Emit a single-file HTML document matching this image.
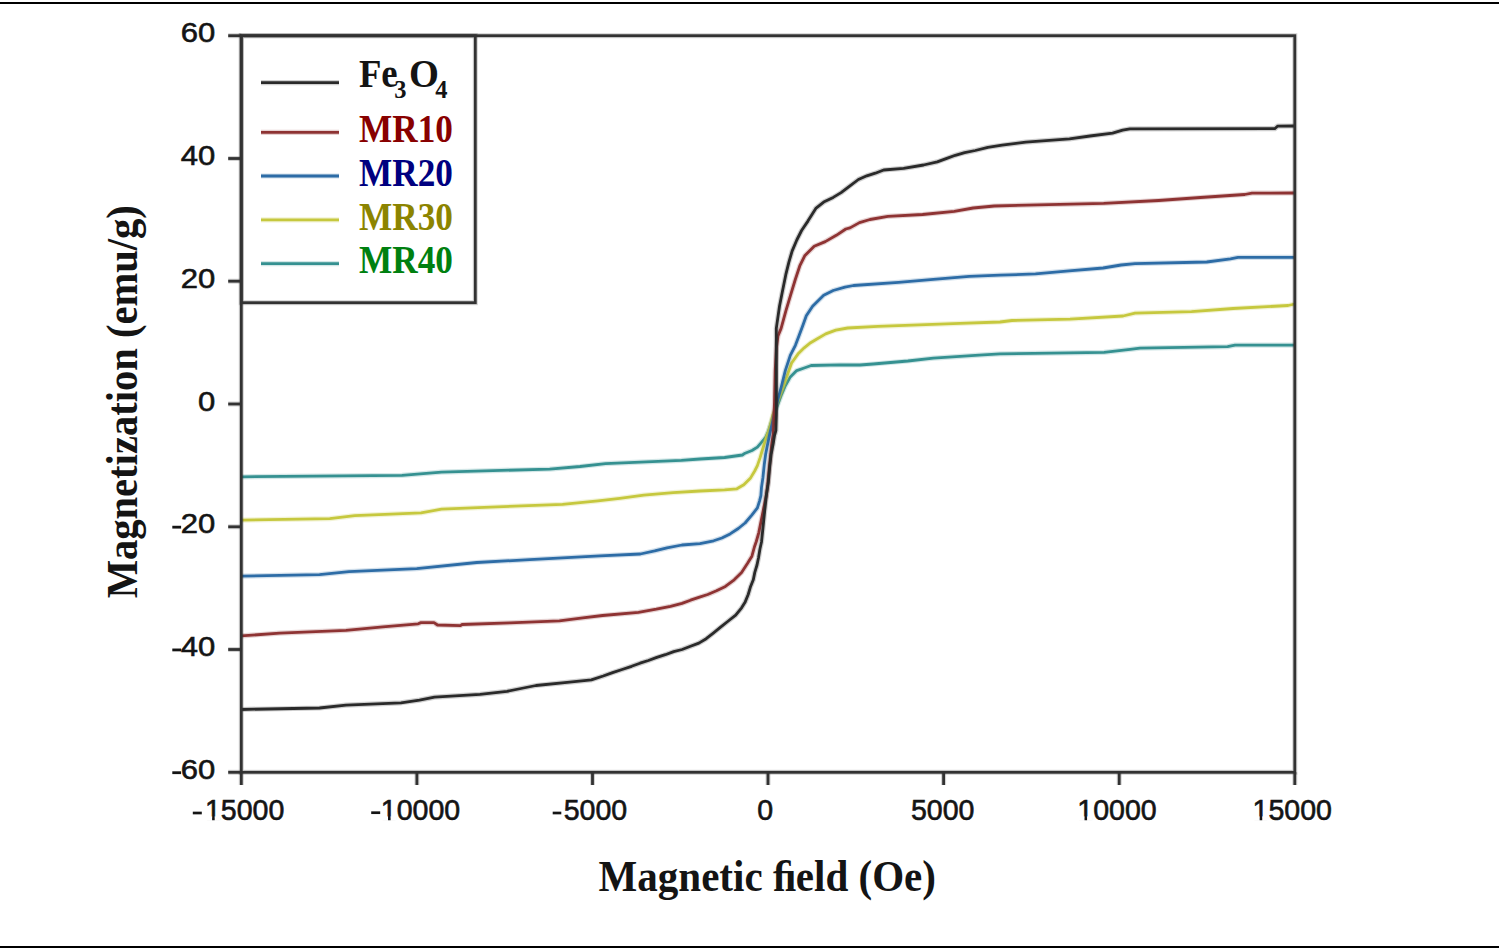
<!DOCTYPE html>
<html><head><meta charset="utf-8"><title>Magnetization vs Magnetic field</title>
<style>html,body{margin:0;padding:0;background:#fff;width:1499px;height:950px;overflow:hidden}svg{display:block}</style>
</head><body>
<svg width="1499" height="950" viewBox="0 0 1499 950">
<rect width="1499" height="950" fill="#fff"/>
<rect x="0" y="2" width="1499" height="2" fill="#000"/>
<rect x="0" y="946" width="1499" height="2" fill="#000"/>
<polyline points="241.0,476.8 402.0,475.3 441.5,472.1 549.7,469.1 580.0,466.5 605.5,463.6 681.4,460.4 700.0,459.0 724.6,457.5 742.4,455.0 745.1,453.2 752.0,450.5 757.4,447.1 761.5,442.3 765.6,437.5 768.3,431.5 772.6,418.6 777.7,404.7 781.5,394.6 785.3,385.7 790.3,376.9 796.7,370.6 804.2,368.0 811.2,365.5 840.0,364.9 860.0,365.0 873.2,364.0 907.9,361.0 933.4,358.2 979.1,355.2 1000.0,353.8 1104.1,352.4 1130.1,349.4 1140.0,348.1 1227.6,346.6 1235.0,345.1 1294.8,345.1" fill="none" stroke="#359191" stroke-opacity="0.22" stroke-width="5.2" stroke-linejoin="round"/>
<polyline points="241.0,476.8 402.0,475.3 441.5,472.1 549.7,469.1 580.0,466.5 605.5,463.6 681.4,460.4 700.0,459.0 724.6,457.5 742.4,455.0 745.1,453.2 752.0,450.5 757.4,447.1 761.5,442.3 765.6,437.5 768.3,431.5 772.6,418.6 777.7,404.7 781.5,394.6 785.3,385.7 790.3,376.9 796.7,370.6 804.2,368.0 811.2,365.5 840.0,364.9 860.0,365.0 873.2,364.0 907.9,361.0 933.4,358.2 979.1,355.2 1000.0,353.8 1104.1,352.4 1130.1,349.4 1140.0,348.1 1227.6,346.6 1235.0,345.1 1294.8,345.1" fill="none" stroke="#359191" stroke-width="2.8" stroke-linejoin="round"/>
<polyline points="241.0,520.1 329.8,518.6 354.8,515.7 421.1,512.9 441.5,509.2 484.2,507.3 562.5,504.3 598.0,500.8 619.8,498.3 643.8,495.2 673.2,492.7 700.0,491.0 724.6,489.8 736.9,488.8 743.8,484.7 750.6,477.9 754.7,471.0 757.4,465.6 760.2,457.4 762.2,450.5 764.3,443.7 767.0,435.5 769.0,430.0 772.6,416.0 779.0,398.4 785.3,380.7 791.6,363.0 797.9,354.1 804.2,347.8 810.6,342.7 816.9,339.0 825.7,333.9 835.8,330.1 847.7,328.0 877.8,326.3 960.0,323.4 1000.0,322.0 1012.0,320.5 1070.0,319.2 1123.1,316.0 1135.0,313.2 1191.5,311.6 1233.1,308.5 1288.1,305.5 1294.8,304.0" fill="none" stroke="#c6c83e" stroke-opacity="0.22" stroke-width="5.2" stroke-linejoin="round"/>
<polyline points="241.0,520.1 329.8,518.6 354.8,515.7 421.1,512.9 441.5,509.2 484.2,507.3 562.5,504.3 598.0,500.8 619.8,498.3 643.8,495.2 673.2,492.7 700.0,491.0 724.6,489.8 736.9,488.8 743.8,484.7 750.6,477.9 754.7,471.0 757.4,465.6 760.2,457.4 762.2,450.5 764.3,443.7 767.0,435.5 769.0,430.0 772.6,416.0 779.0,398.4 785.3,380.7 791.6,363.0 797.9,354.1 804.2,347.8 810.6,342.7 816.9,339.0 825.7,333.9 835.8,330.1 847.7,328.0 877.8,326.3 960.0,323.4 1000.0,322.0 1012.0,320.5 1070.0,319.2 1123.1,316.0 1135.0,313.2 1191.5,311.6 1233.1,308.5 1288.1,305.5 1294.8,304.0" fill="none" stroke="#c6c83e" stroke-width="2.8" stroke-linejoin="round"/>
<polyline points="241.0,576.1 319.5,574.6 349.0,571.7 416.8,568.7 476.8,562.5 529.8,559.6 585.8,556.6 600.0,555.8 640.4,554.0 654.7,550.9 667.0,547.9 682.0,545.0 700.0,543.6 713.7,540.8 721.9,538.0 730.1,533.9 738.3,528.5 745.1,523.0 752.0,514.8 757.4,507.9 759.5,501.1 760.9,495.6 761.5,487.4 762.9,477.9 764.3,464.2 765.6,454.6 767.7,443.7 769.7,434.1 773.0,420.0 777.5,401.0 781.5,386.0 785.3,370.6 790.3,355.4 795.4,345.3 799.2,335.2 803.0,325.1 806.3,315.8 812.6,306.3 823.7,295.3 833.2,290.5 845.0,287.2 853.5,285.5 898.6,282.3 933.4,279.4 969.3,276.4 1000.0,275.2 1035.5,273.9 1069.1,270.9 1103.1,268.0 1121.1,265.0 1135.0,263.6 1206.8,262.0 1230.5,258.8 1238.0,257.4 1294.8,257.4" fill="none" stroke="#2d6ca6" stroke-opacity="0.22" stroke-width="5.2" stroke-linejoin="round"/>
<polyline points="241.0,576.1 319.5,574.6 349.0,571.7 416.8,568.7 476.8,562.5 529.8,559.6 585.8,556.6 600.0,555.8 640.4,554.0 654.7,550.9 667.0,547.9 682.0,545.0 700.0,543.6 713.7,540.8 721.9,538.0 730.1,533.9 738.3,528.5 745.1,523.0 752.0,514.8 757.4,507.9 759.5,501.1 760.9,495.6 761.5,487.4 762.9,477.9 764.3,464.2 765.6,454.6 767.7,443.7 769.7,434.1 773.0,420.0 777.5,401.0 781.5,386.0 785.3,370.6 790.3,355.4 795.4,345.3 799.2,335.2 803.0,325.1 806.3,315.8 812.6,306.3 823.7,295.3 833.2,290.5 845.0,287.2 853.5,285.5 898.6,282.3 933.4,279.4 969.3,276.4 1000.0,275.2 1035.5,273.9 1069.1,270.9 1103.1,268.0 1121.1,265.0 1135.0,263.6 1206.8,262.0 1230.5,258.8 1238.0,257.4 1294.8,257.4" fill="none" stroke="#2d6ca6" stroke-width="2.8" stroke-linejoin="round"/>
<polyline points="241.0,635.9 279.8,633.2 346.0,630.3 382.9,626.8 418.2,623.8 421.0,622.6 434.0,622.6 437.5,625.0 460.5,625.6 462.1,624.5 510.0,622.8 559.4,620.9 582.9,617.9 602.6,615.5 638.5,612.3 656.3,609.2 670.5,606.3 682.0,603.4 690.5,600.2 698.8,597.4 707.7,594.5 716.5,590.8 725.4,586.4 734.2,579.8 741.6,572.4 747.4,563.6 751.9,556.2 754.4,547.0 756.3,541.5 758.8,532.6 761.5,518.9 764.3,505.2 766.3,495.6 767.7,484.7 769.0,471.0 770.4,457.4 771.8,443.7 773.2,434.1 774.5,402.1 775.2,370.6 776.4,347.8 778.0,336.0 781.1,328.4 785.8,311.1 790.5,295.3 795.3,279.5 800.0,265.3 804.7,255.8 814.2,246.3 825.3,241.6 836.3,235.3 845.8,229.0 850.0,227.9 859.5,222.6 870.0,219.5 887.9,216.3 922.6,214.5 954.3,211.3 973.2,208.0 994.3,206.0 1103.7,203.3 1158.7,200.5 1200.5,197.5 1244.7,194.5 1252.0,193.1 1294.8,193.0" fill="none" stroke="#8e3333" stroke-opacity="0.22" stroke-width="5.2" stroke-linejoin="round"/>
<polyline points="241.0,635.9 279.8,633.2 346.0,630.3 382.9,626.8 418.2,623.8 421.0,622.6 434.0,622.6 437.5,625.0 460.5,625.6 462.1,624.5 510.0,622.8 559.4,620.9 582.9,617.9 602.6,615.5 638.5,612.3 656.3,609.2 670.5,606.3 682.0,603.4 690.5,600.2 698.8,597.4 707.7,594.5 716.5,590.8 725.4,586.4 734.2,579.8 741.6,572.4 747.4,563.6 751.9,556.2 754.4,547.0 756.3,541.5 758.8,532.6 761.5,518.9 764.3,505.2 766.3,495.6 767.7,484.7 769.0,471.0 770.4,457.4 771.8,443.7 773.2,434.1 774.5,402.1 775.2,370.6 776.4,347.8 778.0,336.0 781.1,328.4 785.8,311.1 790.5,295.3 795.3,279.5 800.0,265.3 804.7,255.8 814.2,246.3 825.3,241.6 836.3,235.3 845.8,229.0 850.0,227.9 859.5,222.6 870.0,219.5 887.9,216.3 922.6,214.5 954.3,211.3 973.2,208.0 994.3,206.0 1103.7,203.3 1158.7,200.5 1200.5,197.5 1244.7,194.5 1252.0,193.1 1294.8,193.0" fill="none" stroke="#8e3333" stroke-width="2.8" stroke-linejoin="round"/>
<polyline points="241.0,709.5 319.5,708.0 346.0,705.1 401.0,702.8 419.5,700.1 434.5,697.1 480.0,694.3 507.0,691.4 521.0,688.5 536.0,685.5 564.7,682.7 591.4,679.9 603.2,676.0 612.6,672.6 622.1,669.5 631.6,666.3 640.0,663.2 648.4,660.5 656.8,657.4 665.3,654.7 673.7,651.6 682.1,649.5 690.5,646.3 698.9,643.1 706.2,638.7 713.6,632.8 720.9,626.9 728.3,621.0 735.7,615.1 741.6,607.8 745.2,601.9 748.2,594.5 750.4,587.1 753.3,579.8 754.8,572.4 757.0,565.0 758.5,557.7 760.0,548.8 761.5,542.0 762.9,528.5 764.3,514.8 766.3,495.6 768.4,482.0 769.7,466.9 771.1,454.6 773.2,443.7 774.5,435.5 775.9,430.7 776.4,414.8 776.4,370.6 776.3,328.4 779.5,306.3 782.6,290.5 785.8,274.7 788.9,262.1 792.1,251.1 796.8,240.0 801.6,230.5 807.9,221.1 815.8,208.4 823.7,202.1 833.2,197.4 841.1,192.6 850.0,185.8 858.4,179.5 866.8,175.8 875.3,173.2 883.7,170.0 903.6,168.4 923.6,165.0 937.3,161.9 946.8,158.4 955.3,155.3 964.7,152.6 975.3,150.5 987.9,147.3 1002.1,145.2 1025.8,142.1 1069.5,138.9 1090.0,136.0 1112.6,133.1 1122.6,130.2 1130.0,128.8 1274.7,128.7 1277.5,126.2 1294.8,126.0" fill="none" stroke="#2a2a2a" stroke-opacity="0.22" stroke-width="5.2" stroke-linejoin="round"/>
<polyline points="241.0,709.5 319.5,708.0 346.0,705.1 401.0,702.8 419.5,700.1 434.5,697.1 480.0,694.3 507.0,691.4 521.0,688.5 536.0,685.5 564.7,682.7 591.4,679.9 603.2,676.0 612.6,672.6 622.1,669.5 631.6,666.3 640.0,663.2 648.4,660.5 656.8,657.4 665.3,654.7 673.7,651.6 682.1,649.5 690.5,646.3 698.9,643.1 706.2,638.7 713.6,632.8 720.9,626.9 728.3,621.0 735.7,615.1 741.6,607.8 745.2,601.9 748.2,594.5 750.4,587.1 753.3,579.8 754.8,572.4 757.0,565.0 758.5,557.7 760.0,548.8 761.5,542.0 762.9,528.5 764.3,514.8 766.3,495.6 768.4,482.0 769.7,466.9 771.1,454.6 773.2,443.7 774.5,435.5 775.9,430.7 776.4,414.8 776.4,370.6 776.3,328.4 779.5,306.3 782.6,290.5 785.8,274.7 788.9,262.1 792.1,251.1 796.8,240.0 801.6,230.5 807.9,221.1 815.8,208.4 823.7,202.1 833.2,197.4 841.1,192.6 850.0,185.8 858.4,179.5 866.8,175.8 875.3,173.2 883.7,170.0 903.6,168.4 923.6,165.0 937.3,161.9 946.8,158.4 955.3,155.3 964.7,152.6 975.3,150.5 987.9,147.3 1002.1,145.2 1025.8,142.1 1069.5,138.9 1090.0,136.0 1112.6,133.1 1122.6,130.2 1130.0,128.8 1274.7,128.7 1277.5,126.2 1294.8,126.0" fill="none" stroke="#2a2a2a" stroke-width="2.8" stroke-linejoin="round"/>
<rect x="241.3" y="35.7" width="1053.5" height="736.6" fill="none" stroke="#323232" stroke-opacity="0.22" stroke-width="5.0"/>
<rect x="241.3" y="35.7" width="1053.5" height="736.6" fill="none" stroke="#323232" stroke-width="2.8"/>
<line x1="228.2" y1="35.7" x2="241.3" y2="35.7" stroke="#323232" stroke-opacity="0.22" stroke-width="5.0"/>
<line x1="228.2" y1="35.7" x2="241.3" y2="35.7" stroke="#323232" stroke-width="2.8"/>
<text transform="translate(215.2,42.40) scale(1.07,0.975)" font-family="Liberation Sans, sans-serif" font-size="29" text-anchor="end" fill="#141414" stroke="#141414" stroke-width="0.6">60</text>
<line x1="228.2" y1="158.5" x2="241.3" y2="158.5" stroke="#323232" stroke-opacity="0.22" stroke-width="5.0"/>
<line x1="228.2" y1="158.5" x2="241.3" y2="158.5" stroke="#323232" stroke-width="2.8"/>
<text transform="translate(215.2,165.17) scale(1.07,0.975)" font-family="Liberation Sans, sans-serif" font-size="29" text-anchor="end" fill="#141414" stroke="#141414" stroke-width="0.6">40</text>
<line x1="228.2" y1="281.2" x2="241.3" y2="281.2" stroke="#323232" stroke-opacity="0.22" stroke-width="5.0"/>
<line x1="228.2" y1="281.2" x2="241.3" y2="281.2" stroke="#323232" stroke-width="2.8"/>
<text transform="translate(215.2,287.93) scale(1.07,0.975)" font-family="Liberation Sans, sans-serif" font-size="29" text-anchor="end" fill="#141414" stroke="#141414" stroke-width="0.6">20</text>
<line x1="228.2" y1="404.0" x2="241.3" y2="404.0" stroke="#323232" stroke-opacity="0.22" stroke-width="5.0"/>
<line x1="228.2" y1="404.0" x2="241.3" y2="404.0" stroke="#323232" stroke-width="2.8"/>
<text transform="translate(215.2,410.70) scale(1.07,0.975)" font-family="Liberation Sans, sans-serif" font-size="29" text-anchor="end" fill="#141414" stroke="#141414" stroke-width="0.6">0</text>
<line x1="228.2" y1="526.8" x2="241.3" y2="526.8" stroke="#323232" stroke-opacity="0.22" stroke-width="5.0"/>
<line x1="228.2" y1="526.8" x2="241.3" y2="526.8" stroke="#323232" stroke-width="2.8"/>
<text transform="translate(215.2,533.47) scale(1.07,0.975)" font-family="Liberation Sans, sans-serif" font-size="29" text-anchor="end" fill="#141414" stroke="#141414" stroke-width="0.6">20</text>
<rect x="172.3" y="525.77" width="8.8" height="2.8" fill="#141414"/>
<line x1="228.2" y1="649.5" x2="241.3" y2="649.5" stroke="#323232" stroke-opacity="0.22" stroke-width="5.0"/>
<line x1="228.2" y1="649.5" x2="241.3" y2="649.5" stroke="#323232" stroke-width="2.8"/>
<text transform="translate(215.2,656.23) scale(1.07,0.975)" font-family="Liberation Sans, sans-serif" font-size="29" text-anchor="end" fill="#141414" stroke="#141414" stroke-width="0.6">40</text>
<rect x="172.3" y="648.53" width="8.8" height="2.8" fill="#141414"/>
<line x1="228.2" y1="772.3" x2="241.3" y2="772.3" stroke="#323232" stroke-opacity="0.22" stroke-width="5.0"/>
<line x1="228.2" y1="772.3" x2="241.3" y2="772.3" stroke="#323232" stroke-width="2.8"/>
<text transform="translate(215.2,779.00) scale(1.07,0.975)" font-family="Liberation Sans, sans-serif" font-size="29" text-anchor="end" fill="#141414" stroke="#141414" stroke-width="0.6">60</text>
<rect x="172.3" y="771.30" width="8.8" height="2.8" fill="#141414"/>
<line x1="241.3" y1="772.3" x2="241.3" y2="785" stroke="#323232" stroke-opacity="0.22" stroke-width="5.0"/>
<line x1="241.3" y1="772.3" x2="241.3" y2="785" stroke="#323232" stroke-width="2.8"/>
<g transform="translate(204.97,820.1) scale(0.985,1.01)"><text x="0" y="0" font-family="Liberation Sans, sans-serif" font-size="29" fill="#141414" stroke="#141414" stroke-width="0.6">15000</text><rect x="0.00" y="-3.6" width="7.25" height="4.4" fill="#fff"/><rect x="9.86" y="-3.6" width="5.95" height="4.4" fill="#fff"/></g>
<rect x="192.8" y="811.65" width="9.0" height="2.7" fill="#141414"/>
<line x1="416.9" y1="772.3" x2="416.9" y2="785" stroke="#323232" stroke-opacity="0.22" stroke-width="5.0"/>
<line x1="416.9" y1="772.3" x2="416.9" y2="785" stroke="#323232" stroke-width="2.8"/>
<g transform="translate(380.87,820.1) scale(0.985,1.01)"><text x="0" y="0" font-family="Liberation Sans, sans-serif" font-size="29" fill="#141414" stroke="#141414" stroke-width="0.6">10000</text><rect x="0.00" y="-3.6" width="7.25" height="4.4" fill="#fff"/><rect x="9.86" y="-3.6" width="5.95" height="4.4" fill="#fff"/></g>
<rect x="371.2" y="811.35" width="9.0" height="2.7" fill="#141414"/>
<line x1="592.5" y1="772.3" x2="592.5" y2="785" stroke="#323232" stroke-opacity="0.22" stroke-width="5.0"/>
<line x1="592.5" y1="772.3" x2="592.5" y2="785" stroke="#323232" stroke-width="2.8"/>
<g transform="translate(563.69,820.1) scale(0.985,1.01)"><text x="0" y="0" font-family="Liberation Sans, sans-serif" font-size="29" fill="#141414" stroke="#141414" stroke-width="0.6">5000</text></g>
<rect x="552.7" y="811.65" width="8.6" height="2.7" fill="#141414"/>
<line x1="768.0" y1="772.3" x2="768.0" y2="785" stroke="#323232" stroke-opacity="0.22" stroke-width="5.0"/>
<line x1="768.0" y1="772.3" x2="768.0" y2="785" stroke="#323232" stroke-width="2.8"/>
<g transform="translate(757.32,820.1) scale(0.985,1.01)"><text x="0" y="0" font-family="Liberation Sans, sans-serif" font-size="29" fill="#141414" stroke="#141414" stroke-width="0.6">0</text></g>
<line x1="943.6" y1="772.3" x2="943.6" y2="785" stroke="#323232" stroke-opacity="0.22" stroke-width="5.0"/>
<line x1="943.6" y1="772.3" x2="943.6" y2="785" stroke="#323232" stroke-width="2.8"/>
<g transform="translate(910.89,820.1) scale(0.985,1.01)"><text x="0" y="0" font-family="Liberation Sans, sans-serif" font-size="29" fill="#141414" stroke="#141414" stroke-width="0.6">5000</text></g>
<line x1="1119.2" y1="772.3" x2="1119.2" y2="785" stroke="#323232" stroke-opacity="0.22" stroke-width="5.0"/>
<line x1="1119.2" y1="772.3" x2="1119.2" y2="785" stroke="#323232" stroke-width="2.8"/>
<g transform="translate(1077.37,820.1) scale(0.985,1.01)"><text x="0" y="0" font-family="Liberation Sans, sans-serif" font-size="29" fill="#141414" stroke="#141414" stroke-width="0.6">10000</text><rect x="0.00" y="-3.6" width="7.25" height="4.4" fill="#fff"/><rect x="9.86" y="-3.6" width="5.95" height="4.4" fill="#fff"/></g>
<line x1="1294.8" y1="772.3" x2="1294.8" y2="785" stroke="#323232" stroke-opacity="0.22" stroke-width="5.0"/>
<line x1="1294.8" y1="772.3" x2="1294.8" y2="785" stroke="#323232" stroke-width="2.8"/>
<g transform="translate(1252.52,820.1) scale(0.985,1.01)"><text x="0" y="0" font-family="Liberation Sans, sans-serif" font-size="29" fill="#141414" stroke="#141414" stroke-width="0.6">15000</text><rect x="0.00" y="-3.6" width="7.25" height="4.4" fill="#fff"/><rect x="9.86" y="-3.6" width="5.95" height="4.4" fill="#fff"/></g>
<rect x="241.3" y="35.7" width="234" height="267" fill="none" stroke="#323232" stroke-opacity="0.22" stroke-width="5.0"/>
<rect x="241.3" y="35.7" width="234" height="267" fill="none" stroke="#323232" stroke-width="2.8"/>
<line x1="261" y1="82.7" x2="339" y2="82.7" stroke="#2a2a2a" stroke-opacity="0.22" stroke-width="5.2"/>
<line x1="261" y1="82.7" x2="339" y2="82.7" stroke="#2a2a2a" stroke-width="2.8"/>
<line x1="261" y1="132.3" x2="339" y2="132.3" stroke="#8e3333" stroke-opacity="0.22" stroke-width="5.2"/>
<line x1="261" y1="132.3" x2="339" y2="132.3" stroke="#8e3333" stroke-width="2.8"/>
<line x1="261" y1="176.0" x2="339" y2="176.0" stroke="#2d6ca6" stroke-opacity="0.22" stroke-width="5.2"/>
<line x1="261" y1="176.0" x2="339" y2="176.0" stroke="#2d6ca6" stroke-width="2.8"/>
<line x1="261" y1="219.9" x2="339" y2="219.9" stroke="#c6c83e" stroke-opacity="0.22" stroke-width="5.2"/>
<line x1="261" y1="219.9" x2="339" y2="219.9" stroke="#c6c83e" stroke-width="2.8"/>
<line x1="261" y1="263.7" x2="339" y2="263.7" stroke="#359191" stroke-opacity="0.22" stroke-width="5.2"/>
<line x1="261" y1="263.7" x2="339" y2="263.7" stroke="#359191" stroke-width="2.8"/>
<text transform="translate(358.9,86.6) scale(1.02,1.1)" font-family="Liberation Serif, serif" font-weight="bold" font-size="36" fill="#141414">Fe</text>
<text transform="translate(394.3,97.5) scale(1.0,1.05)" font-family="Liberation Serif, serif" font-weight="bold" font-size="24.5" fill="#141414">3</text>
<text transform="translate(409.0,87.3) scale(1.07,1.12)" font-family="Liberation Serif, serif" font-weight="bold" font-size="36" fill="#141414">O</text>
<text transform="translate(435.3,97.5) scale(1.0,1.05)" font-family="Liberation Serif, serif" font-weight="bold" font-size="24.5" fill="#141414">4</text>
<text transform="translate(359.0,141.9) scale(0.978,1.085)" font-family="Liberation Serif, serif" font-weight="bold" font-size="36" fill="#880000">MR10</text>
<text transform="translate(359.0,185.8) scale(0.978,1.085)" font-family="Liberation Serif, serif" font-weight="bold" font-size="36" fill="#000080">MR20</text>
<text transform="translate(359.0,229.5) scale(0.978,1.085)" font-family="Liberation Serif, serif" font-weight="bold" font-size="36" fill="#8c8400">MR30</text>
<text transform="translate(359.0,273.3) scale(0.978,1.085)" font-family="Liberation Serif, serif" font-weight="bold" font-size="36" fill="#008010">MR40</text>
<text transform="translate(598.47,890.6) scale(1.027,1.106)" font-family="Liberation Serif, serif" font-weight="bold" font-size="40" fill="#141414">Magnetic ﬁeld (Oe)</text>
<text transform="translate(137.3,598.3) rotate(-90) scale(1.0145,1.098)" font-family="Liberation Serif, serif" font-weight="bold" font-size="40" fill="#141414">Magnetization (emu/g)</text>
</svg>
</body></html>
